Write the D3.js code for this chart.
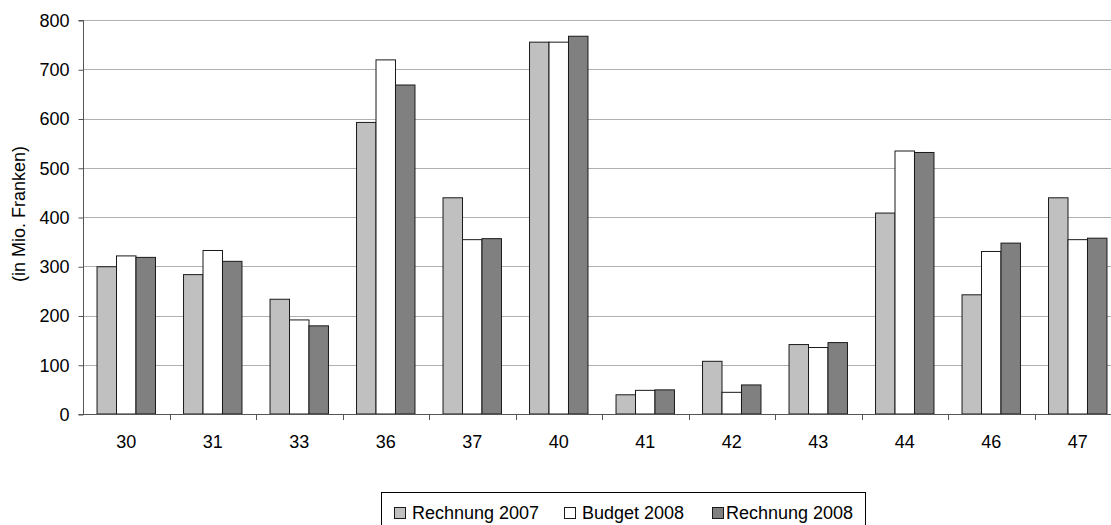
<!DOCTYPE html>
<html>
<head>
<meta charset="utf-8">
<script src="https://cdn.jsdelivr.net/npm/d3@7"></script>
<style>
  html, body { margin: 0; padding: 0; background: #fff; }
  svg { display: block; font-family: "Liberation Sans", Arial, sans-serif; }
</style>
</head>
<body>
<svg id="chart" width="1111" height="525"></svg>
<script>
// Categories (account groups) and values in Mio. Franken
const categories = ["30", "31", "33", "36", "37", "40", "41", "42", "43", "44", "46", "47"];
const seriesNames = ["Rechnung 2007", "Budget 2008", "Rechnung 2008"];
const rechnung2007 = [299, 283, 233, 592, 439, 755, 39, 107, 141, 408, 242, 439];
const budget2008   = [321, 332, 191, 719, 354, 755, 48, 44, 135, 534, 330, 354];
const rechnung2008 = [318, 310, 179, 668, 356, 767, 49, 59, 145, 531, 347, 357];
const yTicks = [0, 100, 200, 300, 400, 500, 600, 700, 800];
const seriesColors = ["#c0c0c0", "#ffffff", "#808080"];

const series = [rechnung2007, budget2008, rechnung2008];

const svg = d3.select("#chart");
const plotLeft = 83, plotRight = 1121, plotTop = 20, plotBottom = 414;
const fontSize = 18;

const x = d3.scaleBand().domain(categories).range([plotLeft, plotRight]).paddingInner(0).paddingOuter(0);
const inner = d3.scaleBand().domain(d3.range(series.length)).range([0, x.bandwidth()])
  .paddingInner(0).paddingOuter(0.72);
const y = d3.scaleLinear().domain([0, 800]).range([plotBottom, plotTop]);

// horizontal gridlines
svg.append("g").selectAll("line").data(yTicks.filter(d => d > 0)).join("line")
  .attr("x1", plotLeft).attr("x2", plotRight)
  .attr("y1", d => Math.round(y(d)) + 0.5).attr("y2", d => Math.round(y(d)) + 0.5)
  .attr("stroke", "#b0b0b0").attr("stroke-width", 1);

// bars
const groups = svg.append("g").selectAll("g").data(categories).join("g")
  .attr("transform", d => `translate(${x(d)},0)`);
groups.selectAll("rect").data((c, i) => series.map((s, k) => ({ k, v: s[i] }))).join("rect")
  .attr("x", d => inner(d.k))
  .attr("width", inner.bandwidth())
  .attr("y", d => y(d.v))
  .attr("height", d => y(0) - y(d.v))
  .attr("fill", d => seriesColors[d.k])
  .attr("stroke", "#1a1a1a")
  .attr("stroke-width", 1);

// y axis
const yAxis = d3.axisLeft(y).tickValues(yTicks).tickSize(5).tickPadding(9).tickFormat(d3.format("d"));
const gy = svg.append("g").attr("transform", `translate(${plotLeft + 0.5},0.5)`).call(yAxis);
gy.select(".domain").attr("stroke", "#555").attr("d", `M-5,${plotTop}H0V${plotBottom}H-5`);
gy.selectAll(".tick line").attr("stroke", "#555");
gy.selectAll(".tick text").attr("font-size", fontSize).attr("fill", "#000")
  .attr("font-family", "'Liberation Sans', Arial, sans-serif");

// x axis: ticks at band boundaries
const gx = svg.append("g");
gx.append("line").attr("x1", plotLeft).attr("x2", plotRight)
  .attr("y1", plotBottom + 0.5).attr("y2", plotBottom + 0.5).attr("stroke", "#555");
gx.selectAll("line.tk").data(categories.slice(1)).join("line").attr("class", "tk")
  .attr("x1", d => Math.round(x(d)) + 0.5).attr("x2", d => Math.round(x(d)) + 0.5)
  .attr("y1", plotBottom).attr("y2", plotBottom + 6).attr("stroke", "#555");
gx.selectAll("text").data(categories).join("text")
  .attr("x", d => x(d) + x.bandwidth() / 2)
  .attr("y", 448)
  .attr("text-anchor", "middle")
  .attr("font-size", fontSize)
  .text(d => d);

// y axis title
svg.append("text")
  .attr("transform", `translate(25,214) rotate(-90)`)
  .attr("text-anchor", "middle")
  .attr("font-size", fontSize)
  .text("(in Mio. Franken)");

// legend
const lg = svg.append("g");
lg.append("rect").attr("x", 381.5).attr("y", 492.5).attr("width", 484).attr("height", 40)
  .attr("fill", "#fff").attr("stroke", "#000");
const swatchX = [394, 564, 712];
const labelX = [412, 582, 726];
const items = lg.selectAll("g").data(seriesNames).join("g");
items.append("rect").attr("x", (d, i) => swatchX[i] + 0.5).attr("y", 507.5).attr("width", 11).attr("height", 11)
  .attr("fill", (d, i) => seriesColors[i]).attr("stroke", "#1a1a1a");
items.append("text").attr("x", (d, i) => labelX[i]).attr("y", 519).attr("font-size", fontSize).text(d => d);
</script>
</body>
</html>
